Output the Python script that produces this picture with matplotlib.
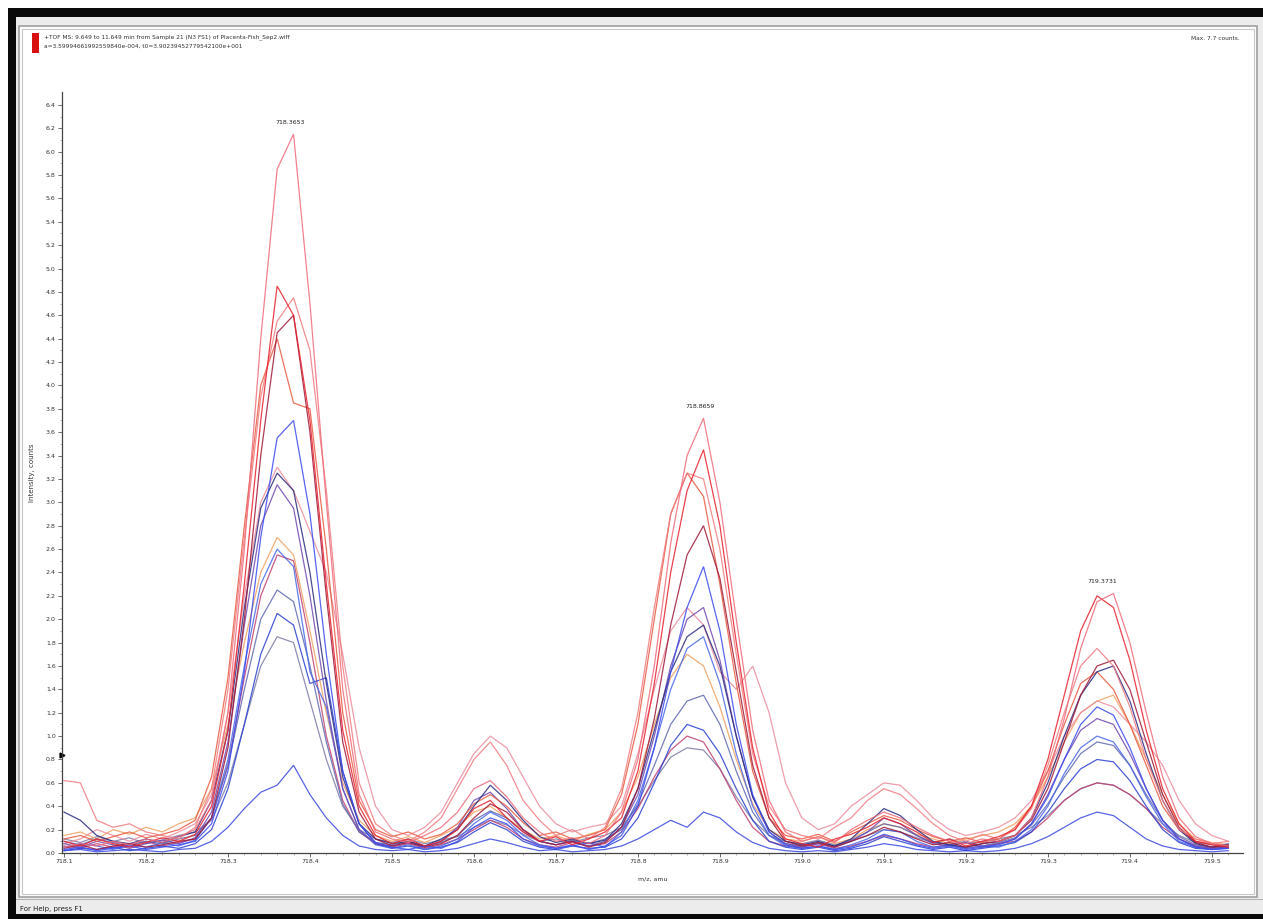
import numpy as np
import matplotlib
matplotlib.use("Agg")
import matplotlib.pyplot as plt
from matplotlib.patches import Rectangle

# ---------------- data ----------------
mz = [round(718.10 + 0.02 * i, 2) for i in range(72)]

r1 = [0.05,0.08,0.06,0.10,0.07,0.12,0.09,0.14,0.20,
      0.45,1.20,2.60,4.40,5.85,6.15,4.70,3.00,1.40,0.50,0.18,
      0.12,0.09,0.15,0.22,0.35,0.55,0.62,0.48,0.30,0.18,0.10,0.13,0.08,0.15,
      0.35,0.80,1.60,2.65,3.40,3.72,3.00,2.00,1.05,0.45,0.18,
      0.10,0.14,0.09,0.20,0.28,0.35,0.30,0.22,0.15,0.10,0.08,0.12,0.10,
      0.15,0.30,0.65,1.15,1.75,2.15,2.22,1.80,1.20,0.65,0.30,0.14,
      0.08,0.06]
r2 = [0.10,0.06,0.12,0.08,0.05,0.09,0.13,0.10,0.16,
      0.40,1.05,2.30,3.70,4.85,4.60,3.70,2.30,1.05,0.40,0.15,
      0.08,0.12,0.06,0.10,0.20,0.38,0.45,0.30,0.18,0.10,0.14,0.07,0.12,0.18,
      0.30,0.70,1.45,2.40,3.10,3.45,2.80,1.80,0.90,0.35,0.12,
      0.08,0.05,0.12,0.16,0.22,0.30,0.25,0.18,0.09,0.12,0.06,0.10,0.14,
      0.20,0.40,0.80,1.35,1.90,2.20,2.10,1.65,1.05,0.55,0.25,0.10,
      0.07,0.05]
r3 = [0.62,0.60,0.28,0.22,0.25,0.18,0.15,0.12,0.22,
      0.55,1.40,2.70,3.90,4.55,4.75,4.30,3.10,1.60,0.60,0.25,
      0.15,0.10,0.18,0.30,0.55,0.80,0.95,0.75,0.45,0.28,0.15,0.20,0.12,0.22,
      0.55,1.20,2.10,2.90,3.25,3.20,2.60,1.70,0.85,0.40,0.20,
      0.15,0.12,0.22,0.30,0.45,0.55,0.50,0.38,0.25,0.15,0.10,0.16,0.12,
      0.20,0.38,0.75,1.20,1.60,1.75,1.60,1.25,0.80,0.45,0.20,0.12,
      0.08,0.10]
r4 = [0.04,0.07,0.03,0.06,0.08,0.05,0.07,0.10,0.12,
      0.30,0.90,2.00,3.40,4.45,4.60,3.60,2.20,0.95,0.35,0.12,
      0.06,0.09,0.05,0.08,0.15,0.30,0.42,0.35,0.20,0.10,0.07,0.10,0.05,0.09,
      0.22,0.55,1.15,1.95,2.55,2.80,2.35,1.55,0.75,0.30,0.10,
      0.06,0.09,0.05,0.10,0.15,0.22,0.18,0.12,0.07,0.09,0.05,0.08,0.10,
      0.15,0.28,0.55,0.95,1.35,1.60,1.65,1.40,0.95,0.50,0.22,0.09,
      0.05,0.07]
r5 = [0.12,0.15,0.10,0.14,0.18,0.13,0.16,0.20,0.28,
      0.65,1.50,2.80,4.00,4.40,3.85,3.80,2.60,1.20,0.45,0.20,
      0.14,0.18,0.12,0.16,0.25,0.42,0.50,0.40,0.26,0.15,0.18,0.12,0.15,0.20,
      0.50,1.10,2.00,2.90,3.25,3.05,2.30,1.45,0.70,0.30,0.15,
      0.12,0.16,0.10,0.18,0.25,0.32,0.28,0.20,0.14,0.10,0.13,0.09,0.12,
      0.22,0.40,0.70,1.10,1.45,1.55,1.40,1.10,0.75,0.40,0.20,0.10,
      0.08,0.06]
r6 = [0.08,0.12,0.20,0.15,0.10,0.16,0.12,0.18,0.25,
      0.50,1.20,2.20,3.00,3.30,3.10,2.75,2.40,1.70,0.90,0.40,
      0.20,0.15,0.22,0.35,0.60,0.85,1.00,0.90,0.65,0.40,0.25,0.18,0.22,0.25,
      0.40,0.85,1.40,1.90,2.10,1.95,1.55,1.40,1.60,1.20,0.60,
      0.30,0.20,0.25,0.40,0.50,0.60,0.58,0.45,0.30,0.20,0.15,0.18,0.22,
      0.30,0.45,0.70,1.00,1.20,1.30,1.25,1.10,0.95,0.75,0.45,0.25,
      0.15,0.10]
r7 = [0.15,0.18,0.12,0.20,0.16,0.22,0.18,0.25,0.30,
      0.55,1.10,1.80,2.40,2.70,2.55,1.90,1.20,0.60,0.28,0.15,
      0.10,0.14,0.09,0.15,0.22,0.35,0.40,0.30,0.20,0.12,0.15,0.10,0.16,0.20,
      0.35,0.65,1.10,1.50,1.70,1.60,1.25,0.80,0.42,0.20,0.12,
      0.10,0.14,0.08,0.12,0.20,0.25,0.22,0.16,0.12,0.08,0.12,0.15,0.18,
      0.25,0.40,0.65,0.95,1.20,1.30,1.35,1.10,0.80,0.50,0.25,0.12,
      0.09,0.07]
r8 = [0.06,0.04,0.08,0.05,0.07,0.10,0.06,0.09,0.12,
      0.30,0.75,1.50,2.20,2.55,2.50,1.80,1.00,0.45,0.18,0.08,
      0.05,0.08,0.04,0.07,0.12,0.20,0.28,0.22,0.12,0.07,0.05,0.09,0.06,0.08,
      0.18,0.38,0.65,0.88,1.00,0.95,0.72,0.45,0.22,0.10,0.06,
      0.05,0.08,0.04,0.06,0.10,0.15,0.12,0.08,0.05,0.07,0.04,0.06,0.08,
      0.10,0.18,0.30,0.45,0.55,0.60,0.58,0.50,0.38,0.22,0.12,0.06,
      0.04,0.05]
b1 = [0.03,0.05,0.02,0.04,0.06,0.03,0.05,0.07,0.10,
      0.25,0.70,1.55,2.70,3.55,3.70,2.90,1.70,0.70,0.25,0.09,
      0.05,0.03,0.06,0.04,0.10,0.22,0.30,0.25,0.12,0.06,0.04,0.07,0.03,0.06,
      0.15,0.40,0.90,1.55,2.10,2.45,1.90,1.10,0.50,0.18,0.07,
      0.04,0.06,0.03,0.05,0.10,0.16,0.12,0.07,0.04,0.06,0.03,0.05,0.07,
      0.12,0.25,0.48,0.80,1.10,1.25,1.18,0.90,0.55,0.28,0.12,0.05,
      0.03,0.04]
b2 = [0.35,0.28,0.15,0.10,0.08,0.12,0.09,0.14,0.18,
      0.45,1.05,2.10,2.95,3.25,3.10,2.40,1.45,0.65,0.25,0.12,
      0.08,0.10,0.06,0.12,0.20,0.40,0.58,0.45,0.28,0.14,0.09,0.12,0.08,0.11,
      0.25,0.55,1.05,1.55,1.85,1.95,1.60,1.00,0.48,0.20,0.10,
      0.07,0.10,0.06,0.12,0.25,0.38,0.32,0.20,0.10,0.07,0.05,0.08,0.10,
      0.15,0.30,0.60,1.00,1.35,1.55,1.60,1.30,0.85,0.45,0.20,0.08,
      0.05,0.06]
b3 = [0.08,0.05,0.10,0.07,0.04,0.08,0.11,0.08,0.13,
      0.35,0.95,1.95,2.80,3.15,2.95,2.20,1.30,0.55,0.20,0.08,
      0.06,0.09,0.05,0.10,0.22,0.45,0.52,0.38,0.20,0.10,0.07,0.10,0.06,0.10,
      0.22,0.50,1.00,1.60,2.00,2.10,1.65,1.00,0.48,0.18,0.08,
      0.05,0.08,0.05,0.10,0.18,0.30,0.25,0.15,0.08,0.06,0.09,0.05,0.08,
      0.12,0.25,0.50,0.80,1.05,1.15,1.10,0.85,0.55,0.28,0.12,0.06,
      0.04,0.05]
b4 = [0.05,0.08,0.06,0.03,0.07,0.05,0.09,0.06,0.11,
      0.30,0.80,1.60,2.30,2.60,2.45,1.55,1.25,0.55,0.20,0.07,
      0.04,0.07,0.03,0.06,0.12,0.25,0.35,0.28,0.15,0.07,0.04,0.06,0.09,0.05,
      0.18,0.45,0.90,1.40,1.75,1.85,1.45,0.85,0.40,0.15,0.06,
      0.04,0.06,0.03,0.07,0.12,0.20,0.18,0.10,0.05,0.07,0.04,0.06,0.05,
      0.10,0.20,0.40,0.68,0.90,1.00,0.95,0.75,0.48,0.25,0.10,0.05,
      0.03,0.05]
b5 = [0.10,0.07,0.12,0.09,0.06,0.10,0.08,0.12,0.15,
      0.30,0.75,1.40,2.00,2.25,2.15,1.60,0.95,0.42,0.18,0.09,
      0.07,0.10,0.06,0.09,0.15,0.28,0.36,0.30,0.18,0.10,0.07,0.11,0.08,0.12,
      0.20,0.42,0.75,1.10,1.30,1.35,1.10,0.70,0.35,0.15,0.08,
      0.06,0.09,0.06,0.11,0.18,0.25,0.22,0.15,0.09,0.07,0.10,0.06,0.09,
      0.13,0.24,0.42,0.65,0.85,0.95,0.92,0.75,0.50,0.28,0.14,0.07,
      0.05,0.08]
b6 = [0.02,0.04,0.03,0.05,0.02,0.04,0.06,0.04,0.08,
      0.20,0.55,1.10,1.70,2.05,1.95,1.45,1.50,0.70,0.25,0.08,
      0.04,0.06,0.03,0.05,0.09,0.18,0.26,0.20,0.10,0.05,0.03,0.06,0.04,0.05,
      0.12,0.30,0.60,0.92,1.10,1.05,0.85,0.55,0.28,0.10,0.05,
      0.03,0.05,0.02,0.04,0.08,0.14,0.10,0.06,0.03,0.05,0.02,0.04,0.06,
      0.09,0.18,0.35,0.55,0.72,0.80,0.78,0.62,0.40,0.20,0.09,0.04,
      0.03,0.04]
b7 = [0.12,0.09,0.14,0.10,0.13,0.08,0.11,0.15,0.18,
      0.28,0.60,1.10,1.60,1.85,1.80,1.30,0.80,0.40,0.20,0.12,
      0.09,0.12,0.08,0.11,0.14,0.22,0.28,0.24,0.16,0.10,0.12,0.09,0.13,0.15,
      0.22,0.40,0.62,0.82,0.90,0.88,0.72,0.48,0.28,0.15,0.10,
      0.08,0.11,0.07,0.10,0.15,0.20,0.18,0.13,0.09,0.12,0.08,0.10,0.12,
      0.15,0.22,0.32,0.45,0.55,0.60,0.58,0.50,0.38,0.25,0.15,0.09,
      0.07,0.06]
b8 = [0.02,0.03,0.01,0.02,0.03,0.02,0.01,0.03,0.04,
      0.10,0.22,0.38,0.52,0.58,0.75,0.50,0.30,0.15,0.06,0.03,
      0.02,0.03,0.01,0.02,0.04,0.08,0.12,0.09,0.05,0.02,0.03,0.01,0.02,0.03,
      0.06,0.12,0.20,0.28,0.22,0.35,0.30,0.18,0.09,0.04,0.02,
      0.01,0.02,0.01,0.03,0.05,0.08,0.06,0.03,0.02,0.01,0.02,0.01,0.02,
      0.04,0.08,0.14,0.22,0.30,0.35,0.32,0.22,0.12,0.06,0.03,0.02,
      0.01,0.02]

series = [b8, b7, r8, b6, r7, b5, r6, b4, b3, r5, b2, r4, b1, r3, r2, r1]
colors = ["#3a48e0", "#7c7ca8", "#c04070", "#2a40d0", "#f0a060", "#6068b0",
          "#eb8c9c", "#4866e6", "#7048b0", "#e85a40", "#2a2a80", "#a01838",
          "#3a4af0", "#f07c80", "#e8202c", "#f06a7a"]

peak_labels = ["718.3653", "718.8659", "719.3731"]
peak_pos = [718.376, 718.876, 719.366]
peak_top = [6.15, 3.72, 2.22]

y_ticks = [round(0.2 * i, 1) for i in range(33)]
x_ticks = [round(718.1 + 0.1 * i, 1) for i in range(15)]

# ---------------- figure ----------------
W, H = 1263, 919
fig = plt.figure(figsize=(W / 100, H / 100), dpi=100)
fig.patch.set_facecolor("white")

def rect(x0, y0, x1, y1, fc, ec="none", lw=0):
    fig.add_artist(Rectangle((x0 / W, 1 - y1 / H), (x1 - x0) / W, (y1 - y0) / H,
                             transform=fig.transFigure, facecolor=fc,
                             edgecolor=ec, linewidth=lw, zorder=0))

rect(8, 8, 1263, 919, "#0a0a0a")
rect(16, 17, 1263, 914, "#ececec")
rect(19, 26, 1257, 897, "#fcfcfc", ec="#a0a0a0", lw=1.2)
rect(22, 29, 1254, 894, "#ffffff", ec="#c8c8c8", lw=0.8)
rect(16, 899, 1263, 900, "#b0b0b0")
rect(32, 33, 39, 53, "#d81010")

fig.text(44 / W, 1 - 37 / H,
         "+TOF MS: 9.649 to 11.649 min from Sample 21 (N3 FS1) of Placenta-Fish_Sep2.wiff",
         fontsize=4.2, color="#333333", va="center", ha="left")
fig.text(44 / W, 1 - 46 / H,
         "a=3.59994661992559840e-004, t0=3.90239452779542100e+001",
         fontsize=4.2, color="#333333", va="center", ha="left")
fig.text(1240 / W, 1 - 38 / H, "Max. 7.7 counts.", fontsize=4.2,
         color="#333333", va="center", ha="right")
fig.text(20 / W, 1 - 909 / H, "For Help, press F1", fontsize=5,
         color="#222222", va="center", ha="left")

ax = fig.add_axes([62 / W, 1 - 853 / H, (1243 - 62) / W, (853 - 92) / H])
ax.set_facecolor("white")
ax.patch.set_alpha(0)

for s, c in zip(series, colors):
    ax.plot(mz, s, color=c, lw=0.9, alpha=0.85, solid_joinstyle="miter")

for lab, xp, yp in zip(peak_labels, peak_pos, peak_top):
    ax.text(xp, yp + 0.08, lab, fontsize=4.5, ha="center", va="bottom",
            color="#222222")

ax.set_xlim(718.0976, 719.538)
ax.set_ylim(0, 6.51)
ax.set_xticks(x_ticks)
ax.set_xticklabels([f"{v:.1f}" for v in x_ticks])
ax.set_yticks(y_ticks)
ax.set_yticklabels([f"{v:.1f}" for v in y_ticks])
ax.set_xticks(np.arange(718.1, 719.54, 0.02), minor=True)
ax.set_yticks(np.arange(0, 6.5, 0.1), minor=True)
ax.tick_params(axis="both", which="major", labelsize=4.5, length=3,
               width=0.6, color="#555555", labelcolor="#333333", pad=1.5)
ax.tick_params(axis="both", which="minor", length=1.5, width=0.4,
               color="#777777")
for sp in ["top", "right"]:
    ax.spines[sp].set_visible(False)
for sp in ["left", "bottom"]:
    ax.spines[sp].set_color("#444444")
    ax.spines[sp].set_linewidth(0.9)

# small black cursor marker on the y axis
ax.plot([0], [0.84], marker=">", color="black", markersize=3.5,
        transform=ax.get_yaxis_transform(), clip_on=False)

ax.set_xlabel("m/z, amu", fontsize=4.5, color="#333333", labelpad=9)
ax.set_ylabel("Intensity, counts", fontsize=5, color="#333333", labelpad=8)

fig.savefig("out.png", dpi=100)
